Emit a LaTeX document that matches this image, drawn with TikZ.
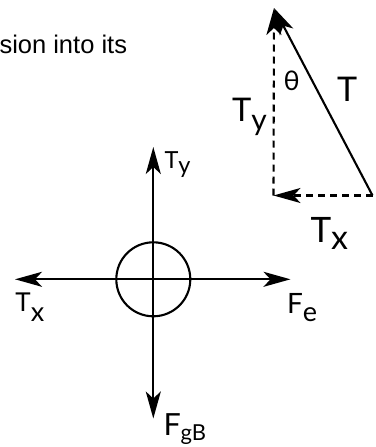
\documentclass[tikz,border=0pt]{standalone}
\usepackage{fontspec}
\setmainfont{Lato}
\newfontfamily\arialf{Liberation Sans}
\usetikzlibrary{arrows.meta}
\newcommand\mylbl[5]{\fontsize{#1}{#1}\selectfont #2\raisebox{-#5pt}{\fontsize{#3}{#3}\selectfont #4}}
\begin{document}
\begin{tikzpicture}[x=1pt,y=-1pt,
  vec/.style={line width=2.1pt, -{Stealth[length=27pt,width=15pt,inset=7pt]}},
  dvec/.style={vec, dash pattern=on 7pt off 5pt},
  lab/.style={anchor=base west, inner sep=0pt, outer sep=0pt}]
\useasboundingbox (0,0) rectangle (375,447);
\node[lab, font=\arialf\fontsize{25.5}{25.5}\selectfont] (cap) at (-0.5,53) {sion into its};

% free body diagram
\node[circle, draw, line width=2.1pt, minimum size=74pt, inner sep=0pt] (ball) at (153.3,279.3) {};
\coordinate (up) at (153.3,147);
\coordinate (down) at (153.3,418.5);
\coordinate (left) at (15,279.3);
\coordinate (right) at (290.5,279.3);
\draw[vec] (ball.center) -- (up);
\draw[vec] (ball.center) -- (down);
\draw[vec] (ball.center) -- (left);
\draw[vec] (ball.center) -- (right);

\node[lab] (lTy) at (164.5,168.5) {\mylbl{23.5}{T}{23.5}{y}{5}};
\node[lab] (lTx) at (15.5,311.7) {\mylbl{26}{T}{27}{x}{10}};
\node[lab] (lFe) at (287,313.3) {\mylbl{28}{F}{27}{e}{8}};
\node[lab] (lFg) at (163.5,435) {\mylbl{30.5}{F}{22}{gB}{5.8}};

% vector triangle
\coordinate (A) at (274,8);
\coordinate (B) at (273.5,195.5);
\coordinate (C) at (372.5,195.5);
\draw[vec] (C) -- (A);
\draw[dvec] (B) -- (A);
\draw[dvec] (C) -- (B);

\node[lab] (tTy) at (232,121.7) {\mylbl{32.6}{T}{30}{y}{8.5}};
\node[lab] (tT) at (337,101) {\mylbl{34}{T}{34}{}{0}};
\node[inner sep=0pt, font=\fontsize{27}{27}\selectfont] (th) at (291.7,80.8) {θ};
\node[lab] (tTx) at (310.5,242) {\mylbl{35}{T}{34}{x}{7}};
\end{tikzpicture}
\end{document}
